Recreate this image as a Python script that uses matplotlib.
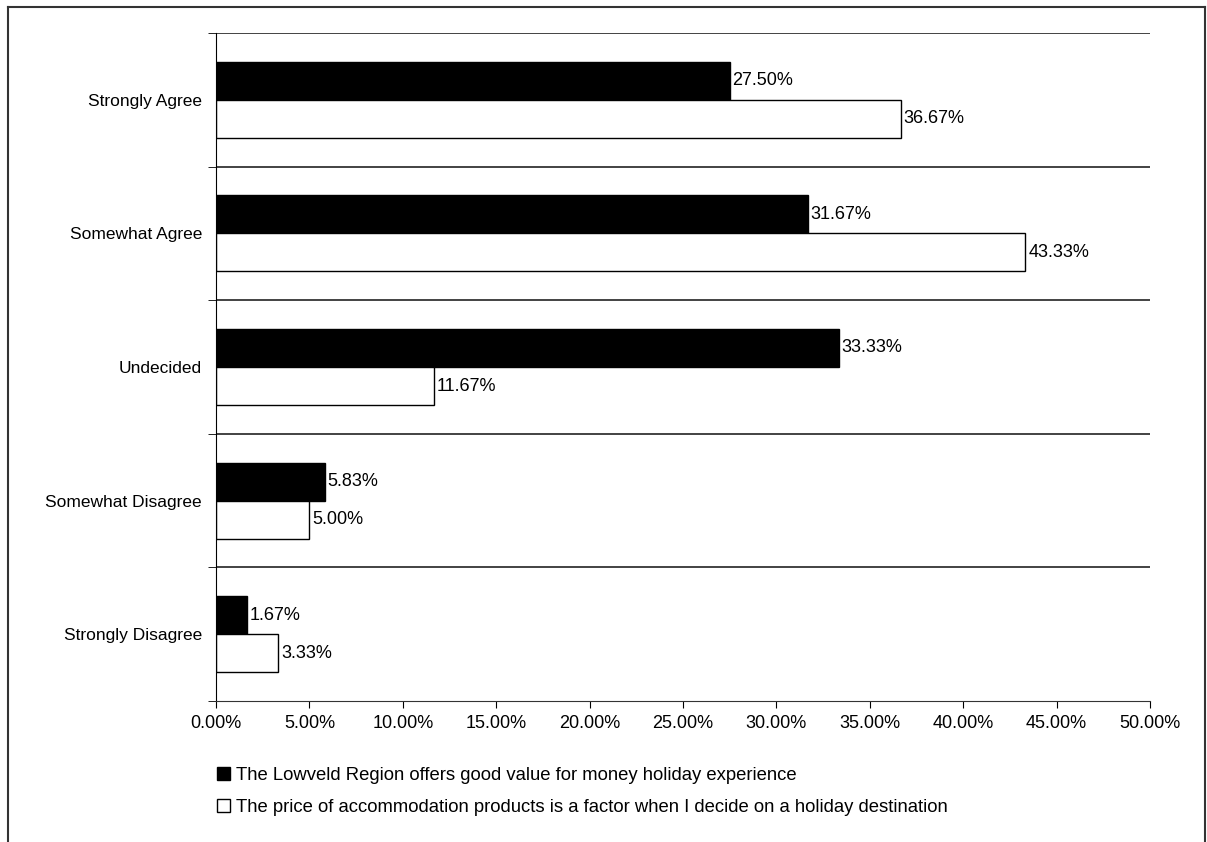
import numpy as np
import matplotlib.pyplot as plt
from matplotlib.patches import Patch
from matplotlib.lines import Line2D
from matplotlib.ticker import FuncFormatter

plt.rcParams['font.family'] = ['Liberation Sans', 'DejaVu Sans']

# data
categories = ['Strongly Agree', 'Somewhat Agree', 'Undecided',
              'Somewhat Disagree', 'Strongly Disagree']
value_for_money = [27.50, 31.67, 33.33, 5.83, 1.67]
price_factor = [36.67, 43.33, 11.67, 5.00, 3.33]
series_names = ['The Lowveld Region offers good value for money holiday experience',
                'The price of accommodation products is a factor when I decide on a holiday destination']

fig = plt.figure(figsize=(12.07, 8.42), dpi=100)
ax = fig.add_axes([216 / 1207, 1 - 701 / 842, (1150 - 216) / 1207, (701 - 33) / 842])

y = np.arange(len(categories))
h = 0.285
b1 = ax.barh(y - h / 2, value_for_money, height=h, color='black', edgecolor='black', linewidth=1)
b2 = ax.barh(y + h / 2, price_factor, height=h, color='white', edgecolor='black', linewidth=1)

for bars, vals in [(b1, value_for_money), (b2, price_factor)]:
    for bar, v in zip(bars, vals):
        ax.text(v + 0.15, bar.get_y() + bar.get_height() / 2, f'{v:.2f}%',
                va='center', ha='left', fontsize=13)

ax.set_xlim(0, 50)
ax.set_ylim(len(categories) - 0.5, -0.5)
ax.set_xticks(np.arange(0, 51, 5))
ax.xaxis.set_major_formatter(FuncFormatter(lambda v, p: f'{v:.2f}%'))
ax.set_yticks(y)
ax.set_yticklabels(categories, fontsize=12.5)
ax.set_yticks(np.arange(-0.5, len(categories), 1), minor=True)
ax.tick_params(axis='y', which='major', length=0, pad=10)
ax.tick_params(axis='y', which='minor', length=6, direction='out', color='black')
ax.tick_params(axis='x', length=5, direction='out', labelsize=13, pad=5)

for yb in np.arange(-0.5, len(categories) - 0.5, 1):
    ax.axhline(yb, color='#222222', linewidth=1.2, zorder=0)

ax.spines['right'].set_visible(False)
ax.spines['top'].set_visible(False)
ax.spines['left'].set_color('black')
ax.spines['bottom'].set_color('#333333')

handles = [Patch(facecolor='black', edgecolor='black'),
           Patch(facecolor='white', edgecolor='black')]
fig.legend(handles, series_names, loc='upper left', bbox_to_anchor=(200 / 1207, 1 - 750 / 842),
           frameon=False, fontsize=13.3, handlelength=0.75, handleheight=0.75,
           handletextpad=0.3, labelspacing=0.8)

# outer chart border
fig.add_artist(Line2D([8 / 1207, 8 / 1207], [0, 1 - 7 / 842], color='#333333', linewidth=1.5))
fig.add_artist(Line2D([8 / 1207, 1205 / 1207], [1 - 7 / 842, 1 - 7 / 842], color='#333333', linewidth=1.5))
fig.add_artist(Line2D([1205 / 1207, 1205 / 1207], [0, 1 - 7 / 842], color='#333333', linewidth=1.5))

plt.savefig('out.png', dpi=100)
